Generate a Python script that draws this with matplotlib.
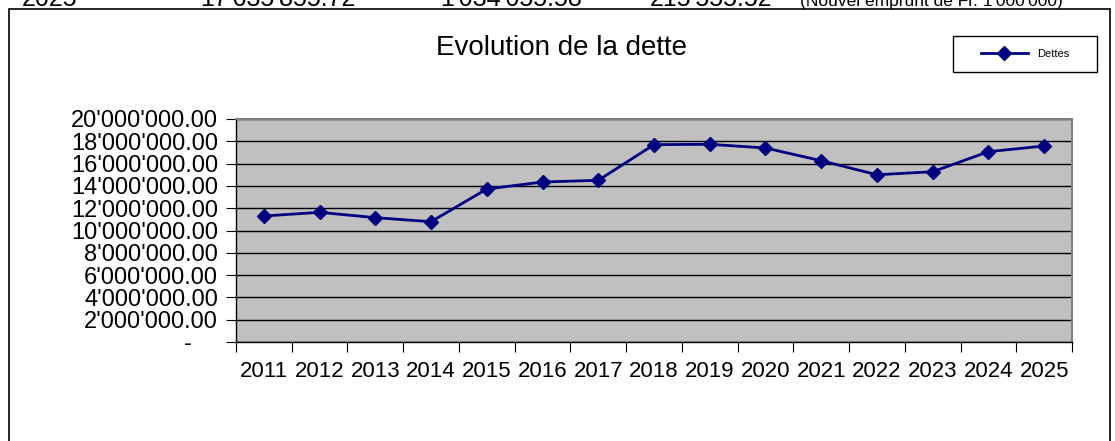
import matplotlib
matplotlib.use("Agg")
import matplotlib.pyplot as plt
from matplotlib.ticker import FuncFormatter, FixedLocator
from matplotlib.patches import Rectangle

plt.rcParams['font.family'] = ['Liberation Sans', 'DejaVu Sans']

years = ["2011", "2012", "2013", "2014", "2015", "2016", "2017", "2018",
         "2019", "2020", "2021", "2022", "2023", "2024", "2025"]
dettes = [11300000, 11630000, 11150000, 10790000, 13720000, 14350000, 14500000,
          17700000, 17730000, 17400000, 16260000, 15000000, 15270000, 17070000, 17580000]
y_ticks = [0, 2000000, 4000000, 6000000, 8000000, 10000000, 12000000,
           14000000, 16000000, 18000000, 20000000]
title = "Evolution de la dette"
series_name = "Dettes"
top_row = ["2025", "17'635'855.72", "1'034'055.58", "215'555.52"]
top_note = "(Nouvel emprunt de Fr. 1'000'000)"

W, H = 1115, 441
fig = plt.figure(figsize=(W / 100, H / 100), dpi=100)

# outer chart border
fig.patches.append(Rectangle((9 / W, -0.1), (1110 - 9) / W, 1.1 - 9 / H,
                             transform=fig.transFigure, fill=False,
                             edgecolor='black', linewidth=1.2))

# cut-off spreadsheet row at the very top
top_x = [22, 200, 440, 650]
for tx, t in zip(top_x, top_row):
    fig.text(tx / W, 1 - 6 / H, t, fontsize=18, va='baseline', ha='left')
fig.text(800 / W, 1 - 6 / H, top_note, fontsize=12.5, va='baseline', ha='left')

ax = fig.add_axes([236 / W, 1 - 342 / H, (1072 - 236) / W, (342 - 119) / H])
ax.set_facecolor('#c0c0c0')

x = list(range(len(years)))
ax.plot(x, dettes, color='#000080', linewidth=2, marker='D', markersize=7,
        label=series_name, zorder=3)

ax.set_xlim(-0.5, len(years) - 0.5)
ax.set_ylim(0, 20000000)
ax.yaxis.set_major_locator(FixedLocator(y_ticks))


def fmt(v, pos):
    if v == 0:
        return "-    "
    return f"{v:,.2f}".replace(",", "'")


ax.yaxis.set_major_formatter(FuncFormatter(fmt))
ax.grid(axis='y', color='black', linewidth=1)
ax.set_axisbelow(True)

ax.xaxis.set_major_locator(FixedLocator([i - 0.5 for i in range(len(years) + 1)]))
ax.xaxis.set_minor_locator(FixedLocator(x))
ax.xaxis.set_major_formatter(FuncFormatter(lambda v, p: ""))
ax.set_xticks(x, minor=True)
ax.set_xticklabels(years, minor=True)
ax.tick_params(axis='x', which='minor', length=0, labelsize=16, pad=14)
ax.tick_params(axis='x', which='major', length=7, direction='out', color='black')
ax.tick_params(axis='y', length=7, direction='out', labelsize=17, pad=6, color='black')

for s in ['top', 'right']:
    ax.spines[s].set_color('#808080')
    ax.spines[s].set_linewidth(1.5)
for s in ['left', 'bottom']:
    ax.spines[s].set_color('black')
    ax.spines[s].set_linewidth(1)

fig.text(562 / W, 1 - 48 / H, title, fontsize=20, ha='center', va='center')

# legend box
fig.patches.append(Rectangle((953 / W, 1 - 72 / H), (1097 - 953) / W, 36 / H,
                             transform=fig.transFigure, fill=False,
                             edgecolor='black', linewidth=1))
leg = ax.legend(loc='center', bbox_to_anchor=(1025 / W, 1 - 54 / H),
                bbox_transform=fig.transFigure, fontsize=8, frameon=False,
                borderpad=0, handlelength=4.2, handletextpad=0.8, borderaxespad=0)

fig.savefig("out.png", dpi=100)
